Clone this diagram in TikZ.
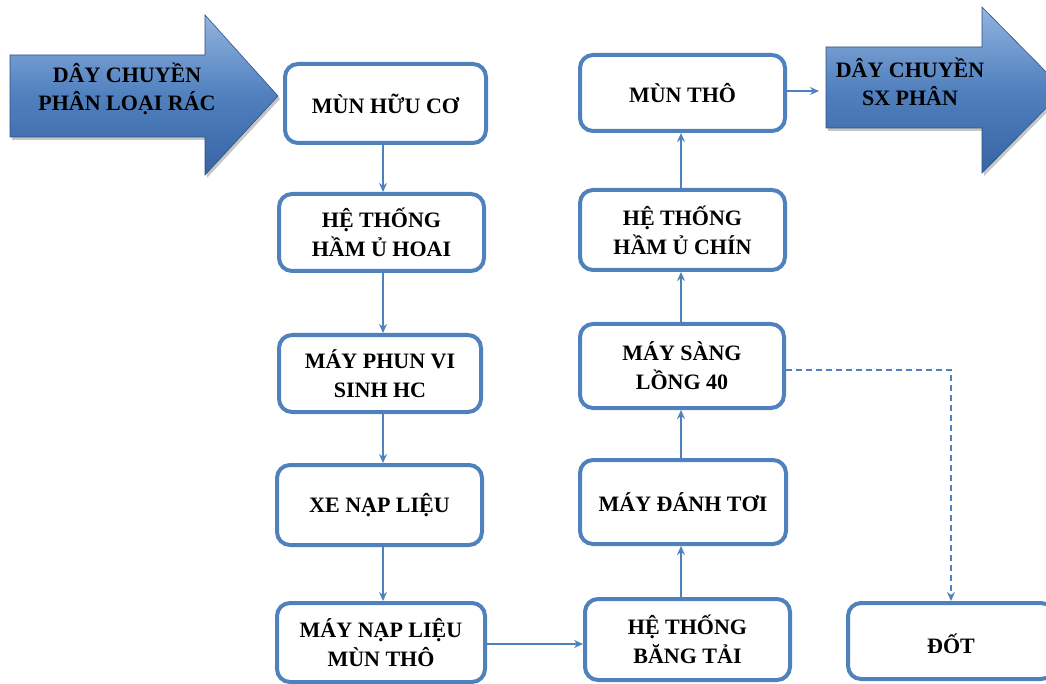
\documentclass[tikz,border=0pt]{standalone}
\usepackage{fontspec}
\setmainfont{Liberation Serif}
\usetikzlibrary{arrows.meta,shadows}
\definecolor{boxblue}{RGB}{79,129,189}
\definecolor{arrtop}{RGB}{146,180,224}
\definecolor{arrmid}{RGB}{80,128,190}
\definecolor{arrbot}{RGB}{56,100,164}
\tikzset{
  stepbox/.style={draw=boxblue, line width=4pt, rounded corners=13pt, fill=white,
    inner sep=0pt, align=center, font=\fontsize{22}{29}\selectfont\bfseries},
  flow/.style={draw=boxblue, line width=1.4pt, -{Stealth[length=9pt,width=8pt]}},
  reject/.style={flow, dashed, dash pattern=on 6pt off 4pt},
  bigarrow/.style={top color=arrtop, bottom color=arrbot, middle color=arrmid,
    draw=arrbot!80!black, line width=0.6pt,
    drop shadow={shadow xshift=2pt, shadow yshift=-3pt, opacity=0.45}},
  arrowtext/.style={align=center, font=\fontsize{22}{28}\selectfont\bfseries, text=black}
}
\begin{document}
\begin{tikzpicture}[x=1pt,y=-1pt]
\useasboundingbox (0,0) rectangle (1046,684);
\begin{scope}
\clip (0,0) rectangle (1046,684);

% input and output arrows
\path[bigarrow] (10,55) -- (205,55) -- (205,15) -- (278,96) -- (205,175) -- (205,137) -- (10,137) -- cycle;
\path[bigarrow] (826,47) -- (982,47) -- (982,7) -- (1064,90) -- (982,173) -- (982,128) -- (826,128) -- cycle;
\node[arrowtext] (inlbl) at (127,89) {DÂY CHUYỀN\\PHÂN LOẠI RÁC};
\node[arrowtext] (outlbl) at (910,82) {DÂY CHUYỀN\\SX PHÂN};

% left column
\node[stepbox, minimum width=201pt, minimum height=79pt] (huuco) at (385.5,103.5) {MÙN HỮU CƠ};
\node[stepbox, minimum width=205pt, minimum height=77pt] (uhoai) at (381.5,232.5) {HỆ THỐNG\\HẦM Ủ HOAI};
\node[stepbox, minimum width=202pt, minimum height=77pt] (phun) at (380,373.5) {MÁY PHUN VI\\SINH HC};
\node[stepbox, minimum width=205pt, minimum height=80pt] (xe) at (379.5,505) {XE NẠP LIỆU};
\node[stepbox, minimum width=208pt, minimum height=79pt] (napthu) at (381,642.5) {MÁY NẠP LIỆU\\MÙN THÔ};

% right column
\node[stepbox, minimum width=205pt, minimum height=81pt] (bangtai) at (687.5,639.5) {HỆ THỐNG\\BĂNG TẢI};
\node[stepbox, minimum width=206pt, minimum height=84pt] (danhtoi) at (683,502) {MÁY ĐÁNH TƠI};
\node[stepbox, minimum width=204pt, minimum height=84pt] (sang) at (682,366) {MÁY SÀNG\\LỒNG 40};
\node[stepbox, minimum width=205pt, minimum height=80pt] (uchin) at (682.5,230) {HỆ THỐNG\\HẦM Ủ CHÍN};
\node[stepbox, minimum width=205pt, minimum height=76pt] (munthu) at (682.5,93) {MÙN THÔ};
\node[stepbox, minimum width=206pt, minimum height=76pt] (dot) at (951,641) {};
\node[font=\fontsize{22}{29}\selectfont\bfseries] (dotlbl) at (951,644) {ĐỐT};

% connectors
\coordinate (lc) at (383,0);
\coordinate (rc) at (681,0);
\draw[flow] (huuco.south -| lc) -- (uhoai.north -| lc);
\draw[flow] (uhoai.south -| lc) -- (phun.north -| lc);
\draw[flow] (phun.south -| lc) -- (xe.north -| lc);
\draw[flow] (xe.south -| lc) -- (napthu.north -| lc);
\coordinate (hrow) at (0,644);
\draw[flow] (napthu.east |- hrow) -- (bangtai.west |- hrow);
\draw[flow] (bangtai.north -| rc) -- (danhtoi.south -| rc);
\draw[flow] (danhtoi.north -| rc) -- (sang.south -| rc);
\draw[flow] (sang.north -| rc) -- (uchin.south -| rc);
\draw[flow] (uchin.north -| rc) -- (munthu.south -| rc);
\coordinate (outend) at (819,91);
\draw[flow] (munthu.east |- outend) -- (outend);
\coordinate (dashrow) at (0,370);
\draw[reject] (sang.east |- dashrow) -| (dot.north);
\end{scope}
\end{tikzpicture}
\end{document}
